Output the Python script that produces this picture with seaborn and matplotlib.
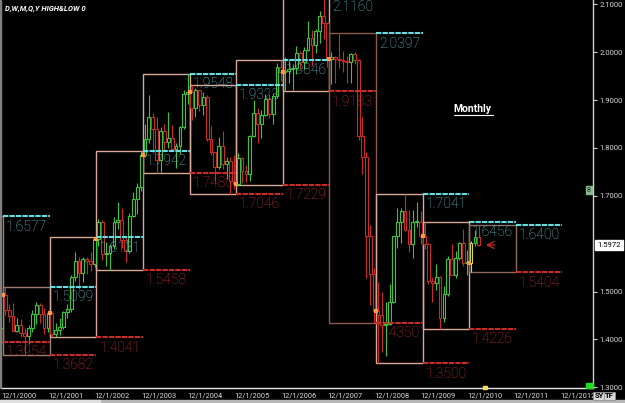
import numpy as np
import pandas as pd
import seaborn as sns
import matplotlib.pyplot as plt
from matplotlib.patches import Rectangle

# yearly high / low ranges
years = list(range(2000, 2012))
year_high = [1.6577, 1.5099, 1.6131, 1.7942, 1.9548, 1.9323,
             1.9846, 2.1160, 2.0397, 1.7041, 1.6456, 1.6400]
year_low = [1.3954, 1.3682, 1.4041, 1.5458, 1.7480, 1.7046,
            1.7229, 1.9183, 1.4350, 1.3500, 1.4226, 1.5404]

# monthly candles, Dec 2000 .. Mar 2011
months = pd.period_range("2000-12", "2011-03", freq="M")
opens = [1.4230,
         1.4930, 1.4620, 1.4480, 1.4180, 1.4310, 1.4130, 1.4080, 1.4230, 1.4540, 1.4710, 1.4540, 1.4240,
         1.4550, 1.4110, 1.4190, 1.4250, 1.4570, 1.4630, 1.5300, 1.5640, 1.5380, 1.5680, 1.5640, 1.5570,
         1.6100, 1.6450, 1.5780, 1.5800, 1.5950, 1.6460, 1.6490, 1.6070, 1.5850, 1.6580, 1.6940, 1.7190,
         1.7850, 1.8190, 1.8650, 1.8390, 1.7740, 1.8350, 1.8130, 1.8210, 1.7970, 1.8050, 1.8430, 1.9130,
         1.9160, 1.8830, 1.9200, 1.8890, 1.9070, 1.8190, 1.7910, 1.7600, 1.8050, 1.7660, 1.7720, 1.7300,
         1.7240, 1.7780, 1.7520, 1.7450, 1.8240, 1.8730, 1.8500, 1.8690, 1.9030, 1.8700, 1.9080, 1.9680,
         1.9580, 1.9600, 1.9640, 1.9670, 1.9990, 1.9790, 2.0050, 2.0300, 2.0160, 2.0440, 2.0760, 2.0600,
         1.9850, 1.9890, 1.9860, 1.9840, 1.9810, 1.9800, 1.9960, 1.9840, 1.8240, 1.7810, 1.6150, 1.5370,
         1.4600, 1.4500, 1.4310, 1.4330, 1.4790, 1.6160, 1.6460, 1.6690, 1.6290, 1.5990, 1.6450, 1.6460,
         1.6150, 1.5990, 1.5230, 1.5180, 1.5300, 1.4450, 1.4950, 1.5690, 1.5350, 1.5710, 1.6020, 1.5590,
         1.5600, 1.6020, 1.6130]
highs = [1.4960,
         1.5099, 1.4750, 1.4770, 1.4440, 1.4430, 1.4240, 1.4300, 1.4610, 1.4790, 1.4760, 1.4650, 1.4590,
         1.4570, 1.4340, 1.4450, 1.4600, 1.4730, 1.5350, 1.5820, 1.5730, 1.5720, 1.5720, 1.5820, 1.6131,
         1.6520, 1.6490, 1.6040, 1.6000, 1.6550, 1.6860, 1.6750, 1.6170, 1.6640, 1.7080, 1.7270, 1.7942,
         1.8500, 1.9100, 1.8720, 1.8650, 1.8440, 1.8500, 1.8750, 1.8480, 1.8100, 1.8450, 1.9200, 1.9548,
         1.9323, 1.9250, 1.9220, 1.9170, 1.9100, 1.8460, 1.7920, 1.8230, 1.8350, 1.7820, 1.7800, 1.7850,
         1.7900, 1.7800, 1.7650, 1.8260, 1.9000, 1.8830, 1.8790, 1.9130, 1.9130, 1.9150, 1.9780, 1.9846,
         1.9890, 1.9840, 1.9750, 2.0130, 2.0020, 2.0110, 2.0660, 2.0470, 2.0480, 2.0850, 2.1160, 2.0620,
         2.0000, 1.9930, 2.0397, 2.0020, 1.9910, 1.9980, 2.0000, 1.9860, 1.8640, 1.7920, 1.6390, 1.5500,
         1.5200, 1.4980, 1.4780, 1.5150, 1.6170, 1.6740, 1.6740, 1.7041, 1.6700, 1.6700, 1.6880, 1.6680,
         1.6456, 1.6010, 1.5300, 1.5580, 1.5320, 1.5110, 1.5750, 1.6000, 1.5840, 1.6040, 1.6300, 1.5860,
         1.6060, 1.6280, 1.6400]
lows = [1.4200,
        1.4500, 1.4360, 1.4150, 1.4150, 1.4060, 1.3682, 1.3900, 1.4150, 1.4330, 1.4340, 1.4110, 1.4150,
        1.4041, 1.4050, 1.4100, 1.4220, 1.4440, 1.4580, 1.5210, 1.5050, 1.5200, 1.5360, 1.5430, 1.5520,
        1.5950, 1.5650, 1.5540, 1.5458, 1.5890, 1.6300, 1.5900, 1.5620, 1.5800, 1.6550, 1.6610, 1.7100,
        1.7800, 1.8100, 1.7900, 1.7480, 1.7500, 1.7960, 1.8000, 1.7950, 1.7580, 1.7870, 1.8400, 1.8920,
        1.8590, 1.8640, 1.8770, 1.8680, 1.8150, 1.7850, 1.7285, 1.7570, 1.7570, 1.7350, 1.7046, 1.7150,
        1.7229, 1.7270, 1.7280, 1.7300, 1.8220, 1.8100, 1.8200, 1.8660, 1.8620, 1.8510, 1.9050, 1.9400,
        1.9183, 1.9360, 1.9200, 1.9550, 1.9650, 1.9640, 2.0020, 1.9720, 1.9980, 2.0200, 2.0270, 1.9700,
        1.9340, 1.9360, 1.9660, 1.9580, 1.9360, 1.9350, 1.9750, 1.8170, 1.7450, 1.5280, 1.4720, 1.4350,
        1.3500, 1.3730, 1.3660, 1.4300, 1.4770, 1.5900, 1.6010, 1.6260, 1.5820, 1.5700, 1.6340, 1.5990,
        1.5890, 1.5160, 1.4780, 1.5040, 1.4226, 1.4360, 1.4910, 1.5340, 1.5290, 1.5650, 1.5530, 1.5350,
        1.5404, 1.5960, 1.5960]
closes = [1.4930,
          1.4620, 1.4480, 1.4180, 1.4310, 1.4130, 1.4080, 1.4230, 1.4540, 1.4710, 1.4540, 1.4240, 1.4550,
          1.4110, 1.4190, 1.4250, 1.4570, 1.4630, 1.5300, 1.5640, 1.5380, 1.5680, 1.5640, 1.5570, 1.6100,
          1.6450, 1.5780, 1.5800, 1.5950, 1.6460, 1.6490, 1.6070, 1.5850, 1.6580, 1.6940, 1.7190, 1.7850,
          1.8190, 1.8650, 1.8390, 1.7740, 1.8350, 1.8130, 1.8210, 1.7970, 1.8050, 1.8430, 1.9130, 1.9160,
          1.8830, 1.9200, 1.8890, 1.9070, 1.8190, 1.7910, 1.7600, 1.8050, 1.7660, 1.7720, 1.7300, 1.7240,
          1.7780, 1.7520, 1.7450, 1.8240, 1.8730, 1.8500, 1.8690, 1.9030, 1.8700, 1.9080, 1.9680, 1.9580,
          1.9600, 1.9640, 1.9670, 1.9990, 1.9790, 2.0050, 2.0300, 2.0160, 2.0440, 2.0760, 2.0600, 1.9850,
          1.9890, 1.9860, 1.9840, 1.9810, 1.9800, 1.9960, 1.9840, 1.8240, 1.7810, 1.6150, 1.5370, 1.4600,
          1.4500, 1.4310, 1.4330, 1.4790, 1.6160, 1.6460, 1.6690, 1.6290, 1.5990, 1.6450, 1.6460, 1.6150,
          1.5990, 1.5230, 1.5180, 1.5300, 1.4450, 1.4950, 1.5690, 1.5350, 1.5710, 1.6020, 1.5590, 1.5600,
          1.6020, 1.6130, 1.5972]

last_price = 1.5972
tick_years = list(range(2000, 2013))
y_ticks = [1.3, 1.4, 1.5, 1.7, 1.8, 1.9, 2.0, 2.1]

CYAN = "#66dde0"
CYAN_TXT = "#62c6c8"
RED = "#c82c28"
RED_TXT = "#c0302c"
GREEN = "#3cc43c"
BOX = "#d9a898"
BOX_DARK = {2000: "#a07c70", 2001: "#a07c70", 2008: "#8c5a4c", 2011: "#8c6a5c"}


def month_pos(p):
    # month index, Jan 2001 = 0
    return (p.year - 2001) * 12 + (p.month - 1)


def main():
    sns.set_theme(style="dark", rc={"axes.facecolor": "black", "figure.facecolor": "black",
                                    "axes.grid": False})
    plt.rcParams["font.family"] = ["Roboto", "DejaVu Sans"]

    fig = plt.figure(figsize=(6.25, 4.03), dpi=100)
    ax = fig.add_axes([1 / 625, 15 / 403, 592 / 625, 388 / 403])
    ax.set_facecolor("black")

    df = pd.DataFrame({"m": [month_pos(p) for p in months], "open": opens, "high": highs,
                       "low": lows, "close": closes})
    up = df["close"] >= df["open"]
    cols = np.where(up, GREEN, RED).astype(object)
    cols[df.index[-3]] = "#d4dc44"  # highlighted candle

    # yearly boxes
    for yr, hi, lo in zip(years, year_high, year_low):
        s = (yr - 2001) * 12 - 0.5
        ax.bar(s, hi - lo, bottom=lo, width=12, align="edge", fill=False,
               edgecolor=BOX_DARK.get(yr, BOX), linewidth=1.0, zorder=2)

    # candles
    ax.vlines(df["m"], df["low"], df["high"], colors=list(cols), linewidth=0.8, zorder=3)
    body_lo = df[["open", "close"]].min(axis=1)
    body_h = (df["close"] - df["open"]).abs().clip(lower=0.002)
    ax.bar(df["m"], body_h, bottom=body_lo, width=0.72, facecolor="black",
           edgecolor=list(cols), linewidth=0.8, zorder=4)

    # previous year high / low carried over the next year
    for yr, hi, lo in zip(years, year_high, year_low):
        s = (yr + 1 - 2001) * 12 - 0.5
        ax.hlines(hi, s, s + 12, colors=CYAN, linewidth=1.5, linestyles=(0, (2.6, 0.5)), zorder=5)
        ax.hlines(lo, s, s + 12, colors=RED, linewidth=1.5, linestyles=(0, (2.6, 0.5)), zorder=5)
        for v, c in ((hi, CYAN_TXT), (lo, RED_TXT)):
            ax.annotate(f"{v:.4f}", xy=(s, v), xytext=(2, -2.5), textcoords="offset points",
                        ha="left", va="top", color=c, fontsize=10, fontweight="light",
                        annotation_clip=False, zorder=6)

    # yearly open markers
    jan = df[[p.month == 1 for p in months]]
    sns.scatterplot(x=jan["m"] - 0.5, y=jan["open"], marker="s", s=7, color="#ff9a44",
                    linewidth=0, ax=ax, zorder=7)
    ax.set_xlabel("")
    ax.set_ylabel("")

    # arrow at last price
    ax.annotate("", xy=(123.1, last_price), xytext=(126.8, last_price),
                arrowprops=dict(arrowstyle="->", color=RED, lw=0.9), zorder=7)

    ax.set_xlim(-1.09, 151.4)
    ax.set_ylim(1.2985, 2.109)

    ax.yaxis.tick_right()
    ax.set_yticks(y_ticks)
    ax.set_yticklabels([f"{v:.4f}" for v in y_ticks])
    ax.set_xticks([(y - 2001) * 12 + 11 for y in tick_years])
    ax.set_xticklabels([f"12/1/{y}" for y in tick_years])
    plt.setp(ax.get_xticklabels(), ha="left")
    ax.tick_params(axis="y", colors="#d0d0d0", labelsize=5.5, length=3, width=0.8,
                   pad=1.5, labelcolor="#d8d8d8")
    ax.tick_params(axis="x", colors="#d0d0d0", labelsize=5.3, length=2.5, width=0.8,
                   pad=0.5, labelcolor="#e0e0e0")
    for side in ("left", "top"):
        ax.spines[side].set_visible(False)
    ax.spines["right"].set_color("#d0d0d0")
    ax.spines["bottom"].set_color("#e8e8e8")
    ax.spines["right"].set_linewidth(1)
    ax.spines["bottom"].set_linewidth(1)

    # current price tag
    ax.annotate(f"{last_price:.4f}", xy=(1, last_price), xycoords=("axes fraction", "data"),
                xytext=(3, 0), textcoords="offset points", ha="left", va="center",
                fontsize=5.5, color="black", annotation_clip=False,
                bbox=dict(boxstyle="square,pad=0.25", fc="white", ec="white"))

    ax.text(0.797, 0.719, "Monthly", transform=ax.transAxes, ha="center", va="center",
            color="white", fontsize=7.5, fontweight="bold")
    ax.plot([0.765, 0.831], [0.703, 0.703], transform=ax.transAxes, color="white", lw=0.8)

    fig.text(5 / 625, 1 - 9 / 403, "D,W,M,Q,Y HIGH&LOW 0", ha="left", va="center",
             color="white", fontsize=5.5, fontstyle="italic", fontweight="bold")

    # small terminal widgets
    fig.patches.append(Rectangle((0, 15 / 403), 1.5 / 625, 388 / 403, transform=fig.transFigure,
                                 color="#808080", zorder=0))
    fig.patches.append(Rectangle((0, 0), 1, 3 / 403, transform=fig.transFigure,
                                 color="#b8b8b8", zorder=0))
    fig.patches.append(Rectangle((0, 0), 100 / 625, 3 / 403, transform=fig.transFigure,
                                 color="#e0e0e0", zorder=0))
    fig.patches.append(Rectangle((586 / 625, 15 / 403), 7 / 625, 5 / 403, transform=fig.transFigure,
                                 color="#22dd22", zorder=5))
    fig.patches.append(Rectangle((483 / 625, 14 / 403), 4 / 625, 3 / 403, transform=fig.transFigure,
                                 color="#f0e070", zorder=5))
    fig.text(589 / 625, 1 - 190 / 403, "8", ha="center", va="center", fontsize=5,
             color="#202020", bbox=dict(boxstyle="square,pad=0.1", fc="#8ab88a", ec="#8ab88a"))
    for x0, lab in ((599, "SY"), (609.5, "TF")):
        fig.text(x0 / 625, 1 - 396 / 403, lab, ha="center", va="center", fontsize=5.5,
                 fontweight="bold", color="black",
                 bbox=dict(boxstyle="square,pad=0.12", fc="#d8d8d8", ec="#909090", lw=0.6))

    fig.savefig("out.png", dpi=100, facecolor="black")
    plt.close(fig)


if __name__ == "__main__":
    main()
